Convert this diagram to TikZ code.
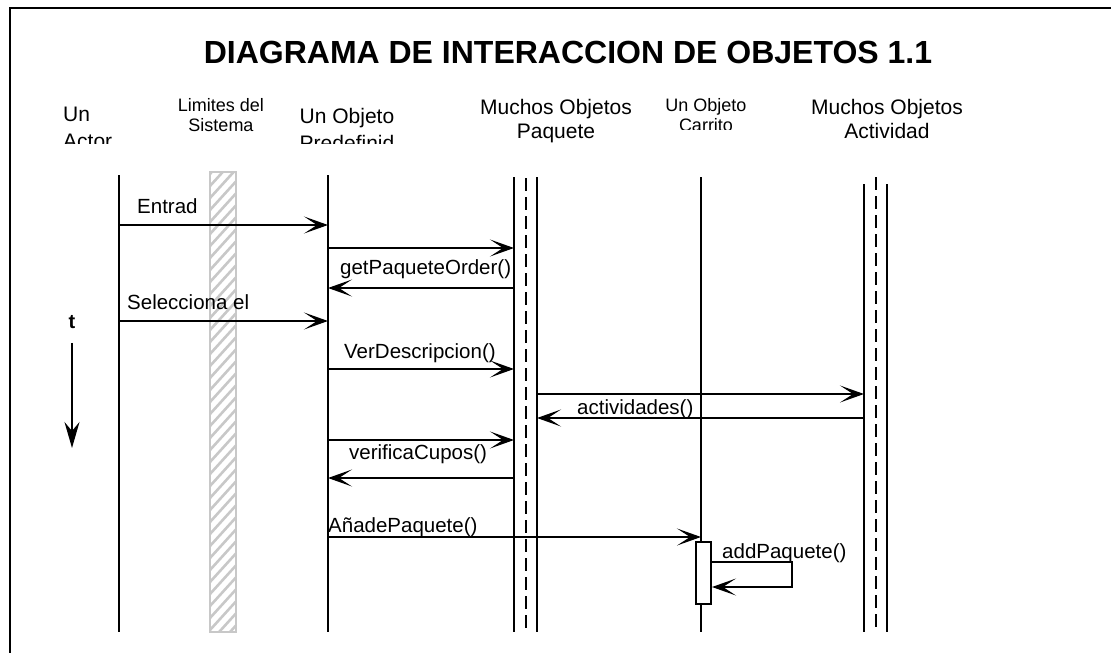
\documentclass[tikz,border=0pt]{standalone}
\usepackage{fontspec}
\setmainfont{Liberation Sans}
\usetikzlibrary{arrows.meta}
\definecolor{black}{RGB}{0,0,0}
\definecolor{hatch_gray}{RGB}{200,200,200}

\tikzset{
	lifeline/.style={black,line width=2pt},
	dashline/.style={black,line width=2.2pt,dash pattern=on 13pt off 6pt},
	msg/.style={black,line width=1.5pt,-{Stealth[length=24pt,width=17pt,inset=13pt]}},
	hdr/.style={inner sep=0pt,anchor=north,align=center,font=\fontsize{21}{24}\selectfont},
	hdrsmall/.style={hdr,font=\fontsize{18}{20}\selectfont},
	lbl/.style={inner sep=0pt,anchor=base west,font=\fontsize{20.5}{24}\selectfont}
}

\begin{document}
\begin{tikzpicture}[x=1pt,y=-1pt]
	\useasboundingbox (0,0) rectangle (1111,653);
	\draw[black,line width=2pt] (10,670) -- (10,8) -- (1130,8);

	\node[inner sep=0pt,font=\bfseries\fontsize{32}{36}\selectfont] (title) at (568,52) {DIAGRAMA DE INTERACCION DE OBJETOS 1.1};

	% headers
	\begin{scope}
		\clip (40,90) rectangle (420,143);
		\node[hdr,anchor=north west,align=left,font=\fontsize{21}{27}\selectfont] (actorH) at (63,107) {Un\\Actor};
		\node[hdr,font=\fontsize{21}{27}\selectfont] (predefH) at (347,108) {Un Objeto\\Predefinid};
	\end{scope}
	\node[hdrsmall] (limH) at (221,98) {Limites del\\Sistema};
	\node[hdr] (paqH) at (556,99) {Muchos Objetos\\Paquete};
	\begin{scope}
		\clip (640,90) rectangle (780,129);
		\node[hdrsmall] (carH) at (706,98) {Un Objeto\\Carrito};
	\end{scope}
	\node[hdr] (actH) at (887,99) {Muchos Objetos\\Actividad};

	% limites del sistema
	\begin{scope}
		\clip (210,172) rectangle (236,632);
		\foreach \k in {0,...,40}
			\draw[hatch_gray,line width=2.6pt] (200,185+12*\k) -- (250,130+12*\k);
	\end{scope}
	\draw[hatch_gray,line width=2pt] (210,172) rectangle (236,632);

	% lifelines
	\foreach \n/\x/\t in {actor/119/175,predef/328/175,paqL/514/177,paqR/537/177,carrito/701/177,actL/864/184,actR/887/184}
	{
		\coordinate (\n) at (\x,\t);
		\draw[lifeline] (\n) -- (\x,632);
	}
	\draw[dashline] (526,178) -- (526,632);
	\draw[dashline] (876,177) -- (876,632);

	% messages
	\foreach \a/\b/\y in {actor/predef/225,predef/paqL/248,paqL/predef/288,actor/predef/321,predef/paqL/369,paqR/actL/394,actL/paqR/418,predef/paqL/440,paqL/predef/478,predef/carrito/537}
		\draw[msg] (\a |- 0,\y) -- (\b |- 0,\y);

	\node[lbl] (entrada) at (137,213) {Entrad};
	\node[lbl] (getpaq) at (340,274) {getPaqueteOrder()};
	\node[lbl] (selec) at (127,309) {Selecciona el};
	\node[lbl] (verdesc) at (344,358) {VerDescripcion()};
	\node[lbl] (activ) at (577,414) {actividades()};
	\node[lbl] (verif) at (349,459) {verificaCupos()};
	\node[lbl] (anade) at (328,532) {AñadePaquete()};
	\node[lbl] (addpaq) at (722,558) {addPaquete()};

	% carrito
	\node[draw=black,line width=2pt,fill=white,minimum width=15pt,minimum height=62pt,inner sep=0pt] (act) at (703.5,573) {};
	\coordinate (selfloop) at (792,587);
	\draw[msg] (act.east |- 0,562) -| (selfloop) -- (act.east |- selfloop);

	% tiempo
	\node[inner sep=0pt,font=\bfseries\fontsize{20}{24}\selectfont] (t) at (72,322) {t};
	\coordinate (tend) at (72,448);
	\draw[black,line width=2pt,-{Stealth[length=26pt,width=15pt,inset=9pt]}] ([yshift=-14pt]t.south) -- (tend);
\end{tikzpicture}
\end{document}
